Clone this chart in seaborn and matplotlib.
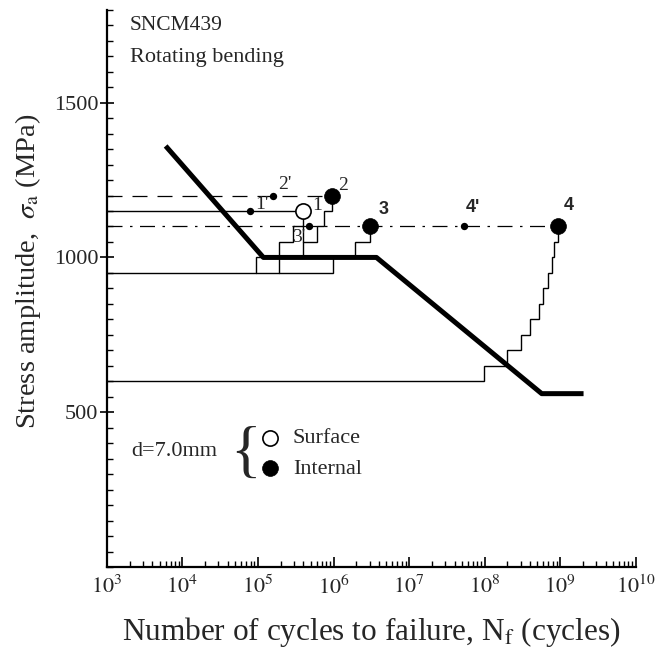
import numpy as np
import pandas as pd
import seaborn as sns
import matplotlib.pyplot as plt
from matplotlib.ticker import LogLocator, MultipleLocator, FixedLocator, NullFormatter


# ------------------------ DATA ------------------------

# S-N curve (thick line)
sn_n = [6.0e3, 1.18e5, 3.7e6, 5.7e8, 2.04e9]
sn_s = [1360, 1000, 1000, 560, 560]

# reference lines from the left axis
line_1150_n = [1e3, 4.0e5]
line_1150_s = [1150, 1150]
dash_1200_n = [1e3, 9.5e5]
dash_1200_s = [1200, 1200]
dash_1100_n = [1e3, 9.3e8]
dash_1100_s = [1100, 1100]

# loading histories (step lines)
hist_950_n = [1e3, 9.7e5, 9.7e5]
hist_950_s = [950, 950, 1000]
box_n = [9.3e4, 9.3e4, 1.18e5]
box_s = [950, 1000, 1000]
stem_1_n = [4.0e5, 4.0e5]
stem_1_s = [1000, 1150]
stair_a_n = [1.92e5, 1.92e5, 2.94e5, 2.94e5, 4.0e5]
stair_a_s = [950, 1050, 1050, 1100, 1100]
stair_b_n = [4.0e5, 6.0e5, 6.0e5, 7.6e5, 7.6e5, 9.5e5, 9.5e5]
stair_b_s = [1050, 1050, 1100, 1100, 1150, 1150, 1200]
stair_c_n = [1.93e6, 1.93e6, 3.0e6, 3.0e6]
stair_c_s = [1000, 1050, 1050, 1100]
stair_d_n = [1e3, 9.8e7, 9.8e7, 1.97e8, 1.97e8, 3.04e8, 3.04e8, 4.0e8, 4.0e8,
             5.2e8, 5.2e8, 6.0e8, 6.0e8, 6.9e8, 6.9e8, 7.8e8, 7.8e8, 8.4e8, 8.4e8,
             9.3e8, 9.3e8]
stair_d_s = [600, 600, 650, 650, 700, 700, 750, 750, 800,
             800, 850, 850, 900, 900, 950, 950, 1000, 1000, 1050,
             1050, 1100]

# failure points
surface_n = [4.0e5]
surface_s = [1150]
surface_lab = ["1"]
internal_n = [9.5e5, 3.0e6, 9.3e8]
internal_s = [1200, 1100, 1100]
internal_lab = ["2", "3", "4"]
primed_n = [7.8e4, 1.6e5, 4.7e5, 5.4e7]
primed_s = [1150, 1200, 1100, 1100]
primed_lab = ["1'", "2'", "3'", "4'"]

decades = [3, 4, 5, 6, 7, 8, 9, 10]
y_major = [500, 1000, 1500]


# ------------------------ STYLE ------------------------

sns.set_style("ticks")
plt.rcParams["font.family"] = ["Liberation Serif", "DejaVu Serif"]
plt.rcParams["mathtext.fontset"] = "stix"

fig = plt.figure(figsize=(6.72, 6.51), dpi=100)
ax = fig.add_axes([0.159, 0.129, 0.787, 0.856])

thin = dict(color="black", lw=1.0, solid_joinstyle="miter")

# ------------------------ LINES ------------------------

ax.plot(dash_1200_n, dash_1200_s, color="black", lw=0.9, dashes=(12, 8))
ax.plot(dash_1100_n, dash_1100_s, color="black", lw=0.9, dashes=(12, 6, 2, 6))
ax.plot(line_1150_n, line_1150_s, **thin)
for xs, ys in [(hist_950_n, hist_950_s), (box_n, box_s), (stem_1_n, stem_1_s),
               (stair_a_n, stair_a_s), (stair_b_n, stair_b_s),
               (stair_c_n, stair_c_s), (stair_d_n, stair_d_s)]:
    ax.plot(xs, ys, **thin)

ax.plot(sn_n, sn_s, color="black", lw=3.6, solid_capstyle="butt")

# ------------------------ POINTS ------------------------

df_surf = pd.DataFrame({"N": surface_n, "S": surface_s})
df_int = pd.DataFrame({"N": internal_n, "S": internal_s})
df_pr = pd.DataFrame({"N": primed_n, "S": primed_s})

sns.scatterplot(data=df_surf, x="N", y="S", ax=ax, s=120, marker="o",
                facecolor="white", edgecolor="black", linewidth=1.2,
                label="Surface", zorder=5)
sns.scatterplot(data=df_int, x="N", y="S", ax=ax, s=130, marker="o",
                color="black", edgecolor="black", linewidth=0.5,
                label="Internal", zorder=5)
sns.scatterplot(data=df_pr, x="N", y="S", ax=ax, s=28, marker="o",
                color="black", edgecolor="black", linewidth=0,
                legend=False, zorder=5)

# point labels
offsets = {"1": (10, 4), "2": (8, 7), "3": (10, 12), "4": (8, 15),
           "1'": (9, 5), "2'": (8, 8), "3'": (-7, -8), "4'": (6, 14)}
for xs, ys, labs in [(surface_n, surface_s, surface_lab),
                     (internal_n, internal_s, internal_lab),
                     (primed_n, primed_s, primed_lab)]:
    for x, y, t in zip(xs, ys, labs):
        bold = t in ("3", "4", "4'")
        ax.annotate(t, (x, y), xytext=offsets[t], textcoords="offset points",
                    ha="center", va="center", fontsize=13 if bold else 14,
                    fontweight="bold" if bold else "normal",
                    family=["Liberation Sans"] if bold else ["Liberation Serif"])

# ------------------------ AXES ------------------------

ax.set_xscale("log")
ax.set_xlim(1e3, 1e10)
ax.set_ylim(0, 1800)

ax.xaxis.set_major_locator(FixedLocator([10.0 ** k for k in decades]))
ax.xaxis.set_minor_locator(LogLocator(base=10, subs=np.arange(2, 10), numticks=100))
ax.xaxis.set_minor_formatter(NullFormatter())
ax.set_xticklabels([f"$10^{{{k}}}$" for k in decades])

ax.yaxis.set_major_locator(FixedLocator(y_major))
ax.yaxis.set_minor_locator(MultipleLocator(50))
ax.set_yticklabels([str(v) for v in y_major])

ax.tick_params(which="major", direction="in", length=7, width=1.2, labelsize=16,
               color="black", pad=4)
ax.tick_params(which="minor", direction="in", length=4, width=1.0, color="black")
ax.tick_params(axis="x", which="major", pad=6)
ax.tick_params(axis="y", which="major", direction="inout", length=10, pad=1)

for side in ["top", "right"]:
    ax.spines[side].set_visible(False)
for side in ["left", "bottom"]:
    ax.spines[side].set_linewidth(1.6)
    ax.spines[side].set_color("black")

ax.set_xlabel(r"Number of cycles to failure, N$_{\rm f}$ (cycles)", fontsize=22.5, labelpad=12)
ax.set_ylabel(r"Stress amplitude,  $\sigma_{\rm a}$ (MPa)", fontsize=20.5)
ax.yaxis.set_label_coords(-0.1205, 0.531)

# ------------------------ TEXT / LEGEND ------------------------

ax.text(0.043, 0.971, "SNCM439", transform=ax.transAxes, fontsize=15.5, va="center", ha="left")
ax.text(0.043, 0.914, "Rotating bending", transform=ax.transAxes, fontsize=16, va="center", ha="left")
ax.text(0.047, 0.207, "d=7.0mm", transform=ax.transAxes, fontsize=16, va="center", ha="left")
ax.text(0.263, 0.200, "{", transform=ax.transAxes, fontsize=46, va="center", ha="center",
        fontweight="light")

leg = ax.legend(loc="center left", bbox_to_anchor=(0.249, 0.204), frameon=False,
                fontsize=16, handlelength=1.0, handletextpad=0.55, labelspacing=0.45,
                borderpad=0.4, markerscale=1.0)

fig.savefig("out.png", dpi=100)
